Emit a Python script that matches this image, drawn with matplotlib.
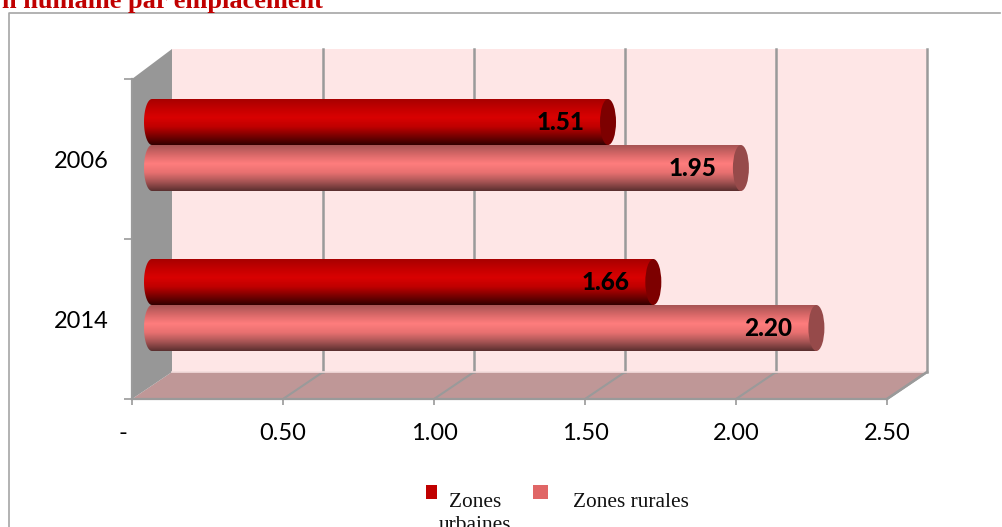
import numpy as np
import matplotlib
matplotlib.use("Agg")
import matplotlib.pyplot as plt
from matplotlib.colors import LinearSegmentedColormap
from matplotlib.lines import Line2D
from matplotlib.patches import Ellipse, PathPatch, Polygon, Rectangle
from matplotlib.path import Path

years = ["2006", "2014"]
urban = [1.51, 1.66]
rural = [1.95, 2.20]
series_names = ["Zones\nurbaines", "Zones rurales"]
x_ticks = [0, 0.5, 1.0, 1.5, 2.0, 2.5]
x_labels = ["-   ", "0.50", "1.00", "1.50", "2.00", "2.50"]

W, H = 1003, 527
# front plane of the fake 3D box, in pixels
LEFT, RIGHT, TOP, BOTTOM = 132, 887, 79, 399
PX_X = (RIGHT - LEFT) / 2.5
PX_Y = (BOTTOM - TOP) / 2.0
GREY = "#9a9a9a"


def dx(px):
    return px / PX_X


def dy(px):
    return px / PX_Y


fig = plt.figure(figsize=(W / 100, H / 100), dpi=100, facecolor="white")
ax = fig.add_axes([LEFT / W, 1 - BOTTOM / H, (RIGHT - LEFT) / W, (BOTTOM - TOP) / H])
ax.patch.set_alpha(0)

# walls
back = [(dx(40), dy(27)), (2.5 + dx(40), dy(27)), (2.5 + dx(40), 2 + dy(30)), (dx(40), 2 + dy(30))]
ax.add_patch(Polygon(back, fc="#fee6e6", ec="none", clip_on=False, zorder=1))
floor = [(0, 0), (2.5, 0), (2.5 + dx(40), dy(27)), (dx(40), dy(27))]
ax.add_patch(Polygon(floor, fc="#bf9797", ec="none", clip_on=False, zorder=1))
side = [(0, 0), (dx(40), dy(27)), (dx(40), 2 + dy(30)), (0, 2)]
ax.add_patch(Polygon(side, fc="#979797", ec="none", clip_on=False, zorder=1))

# grid on back wall and floor
for t in x_ticks[1:]:
    ax.add_line(Line2D([t + dx(40)] * 2, [dy(27), 2 + dy(30)], color=GREY, lw=1.8, clip_on=False, zorder=2))
    ax.add_line(Line2D([t, t + dx(40)], [0, dy(27)], color=GREY, lw=1.5, clip_on=False, zorder=2))
ax.add_line(Line2D([dx(40), 2.5 + dx(40)], [dy(27), dy(27)], color="#f3dcdc", lw=1.2, clip_on=False, zorder=2))

urban_cmap = LinearSegmentedColormap.from_list("urban", ["#a80000", "#c40000", "#d90202", "#c00000", "#7c0000", "#350000"])
rural_cmap = LinearSegmentedColormap.from_list("rural", ["#a85454", "#d86868", "#ff7d7d", "#e87070", "#a85555", "#5c3030"])


def cylinder(value, y_center, cmap, cap_color):
    x0 = dx(20)
    x1 = x0 + value
    h = dy(46)
    rx = dx(8)
    ax.barh(y_center, value, left=x0, height=h, color=cap_color, zorder=3)
    t = np.linspace(np.pi / 2, 3 * np.pi / 2, 40)
    verts = [(x0 + rx * np.cos(a), y_center + h / 2 * np.sin(a)) for a in t]
    verts += [(x1, y_center - h / 2), (x1, y_center + h / 2), verts[0]]
    clip = PathPatch(Path(verts), transform=ax.transData, fc="none", ec="none")
    ax.add_patch(clip)
    im = ax.imshow(np.linspace(0, 1, 64).reshape(-1, 1), cmap=cmap, aspect="auto",
                   extent=(x0 - rx, x1, y_center - h / 2, y_center + h / 2),
                   origin="upper", zorder=3.1, interpolation="bilinear")
    im.set_clip_path(clip)
    ax.add_patch(Ellipse((x1, y_center), 2 * rx, h, fc=cap_color, ec="none", zorder=3.2))
    ax.annotate(f"{value:.2f}", (x1, y_center), xytext=(-48, 0), textcoords="offset pixels",
                ha="center", va="center", fontfamily="Lato", fontweight="black",
                fontsize=17.5, color="black", zorder=5)


y_pos = [1.5, 0.5]
for y, u, r in zip(y_pos, urban, rural):
    c = y + dy(14)
    cylinder(u, c + dy(23), urban_cmap, "#7d0000")
    cylinder(r, c - dy(23), rural_cmap, "#964a4a")

ax.set_xlim(0, 2.5)
ax.set_ylim(0, 2)

for s in ["top", "right"]:
    ax.spines[s].set_visible(False)
for s in ["left", "bottom"]:
    ax.spines[s].set_color(GREY)
    ax.spines[s].set_linewidth(1.6)
ax.add_line(Line2D([2.5, 2.5 + dx(40)], [0, dy(27)], color=GREY, lw=1.8, clip_on=False, zorder=2))

ax.set_xticks(x_ticks)
ax.set_xticklabels(x_labels, fontfamily="Lato", fontsize=17)
ax.set_yticks([0, 1, 2])
ax.set_yticklabels([])
ax.set_yticks(y_pos, minor=True)
ax.set_yticklabels(years, minor=True, fontfamily="Lato", fontsize=17)
ax.tick_params(axis="x", length=4.5, width=1.2, color=GREY, pad=13)
ax.tick_params(axis="y", which="major", length=6, width=1.2, color=GREY)
ax.tick_params(axis="y", which="minor", length=0, pad=17)

# chart frame and cropped title
fig.add_artist(Line2D([9.5 / W, 9.5 / W, 1000 / W], [0, 1 - 13 / H, 1 - 13 / H], color="#a6a6a6", lw=1.2))
fig.text(323 / W, 1 - 8 / H, "n humaine par emplacement", ha="right", va="baseline",
         fontfamily="Liberation Serif", fontweight="bold", fontsize=19, color="#c00000")

# legend
fig.add_artist(Rectangle((426 / W, 1 - 499 / H), 11 / W, 14 / H, transform=fig.transFigure, fc="#c00000", ec="none"))
fig.add_artist(Rectangle((533 / W, 1 - 499 / H), 15 / W, 14 / H, transform=fig.transFigure, fc="#e06666", ec="none"))
fig.text(475 / W, 1 - 493 / H, series_names[0], ha="center", va="top", linespacing=1.25,
         fontfamily="Liberation Serif", fontsize=15.4, color="#111111")
fig.text(573 / W, 1 - 507 / H, series_names[1], ha="left", va="baseline",
         fontfamily="Liberation Serif", fontsize=15.4, color="#111111")

fig.savefig("out.png", dpi=100)
